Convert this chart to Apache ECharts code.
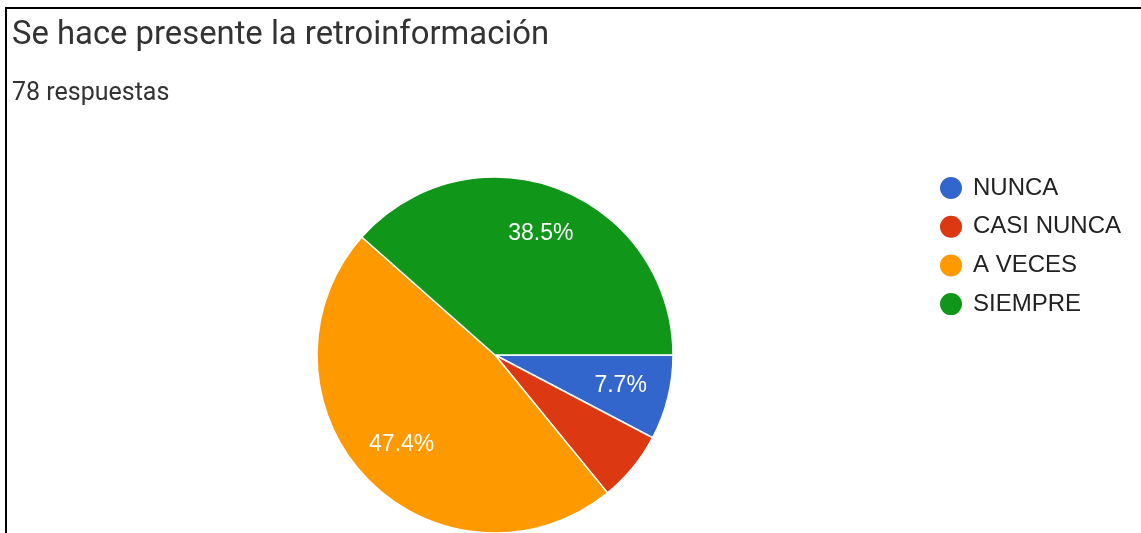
<!DOCTYPE html>
<html><head><meta charset="utf-8">
<script src="https://cdn.jsdelivr.net/npm/echarts@6/dist/echarts.min.js"></script>
<style>html,body{margin:0;padding:0;background:#fff;}#c{width:1141px;height:533px;}</style>
</head><body><div id="c"></div>
<script>
const titleText = 'Se hace presente la retroinformación';
const subtitleText = '78 respuestas';
const categories = ['NUNCA', 'CASI NUNCA', 'A VECES', 'SIEMPRE'];
const counts = [6, 5, 37, 30];
const colors = ['#3366cc', '#dc3912', '#ff9900', '#109618'];
const hiddenLabels = ['CASI NUNCA'];

const total = counts.reduce((a, b) => a + b, 0);
const R = 178;
const labelR = 0.71 * R;
const chart = echarts.init(document.getElementById('c'), null, {renderer: 'canvas'});
const sliceData = categories.map((n, i) => ({name: n, value: counts[i], itemStyle: {color: colors[i]}}));
const labelData = categories.map((n, i) => ({
  name: n, value: counts[i],
  itemStyle: {color: 'rgba(0,0,0,0)', borderWidth: 0},
  label: {show: hiddenLabels.indexOf(n) < 0}
}));
chart.setOption({
  animation: false,
  title: [
    {text: titleText, left: 12, top: 19, padding: 0, textStyle: {fontFamily: 'Roboto', fontSize: 32.8, fontWeight: 'normal', color: '#333333'}},
    {text: subtitleText, left: 12, top: 81, padding: 0, textStyle: {fontFamily: 'Roboto', fontSize: 25, fontWeight: 'normal', color: '#333333'}}
  ],
  legend: {
    orient: 'vertical', left: 938, top: 175, padding: 0, icon: 'circle',
    itemWidth: 24, itemHeight: 24, itemGap: 12.7,
    data: categories,
    textStyle: {fontFamily: 'Liberation Sans', fontSize: 24, color: '#222222', padding: [0, 0, 0, 5]}
  },
  graphic: [
    {type: 'rect', shape: {x: 5, y: 7, width: 1136, height: 2}, style: {fill: '#000'}, silent: true},
    {type: 'rect', shape: {x: 5, y: 7, width: 2, height: 526}, style: {fill: '#000'}, silent: true}
  ],
  series: [
    {
      type: 'pie', center: [495, 355], radius: [0, R], startAngle: 0, clockwise: true,
      data: sliceData, label: {show: false}, labelLine: {show: false},
      itemStyle: {borderColor: '#ffffff', borderWidth: 1.5},
      emphasis: {disabled: true}, silent: true
    },
    {
      type: 'pie', center: [495, 355], radius: [2 * labelR - R, R], startAngle: 0, clockwise: true,
      data: labelData, labelLine: {show: false},
      label: {show: true, position: 'inside', formatter: p => (p.value / total * 100).toFixed(1) + '%',
        fontFamily: 'Liberation Sans', fontSize: 23, color: '#ffffff'},
      emphasis: {disabled: true}, silent: true
    }
  ]
});
</script></body></html>
